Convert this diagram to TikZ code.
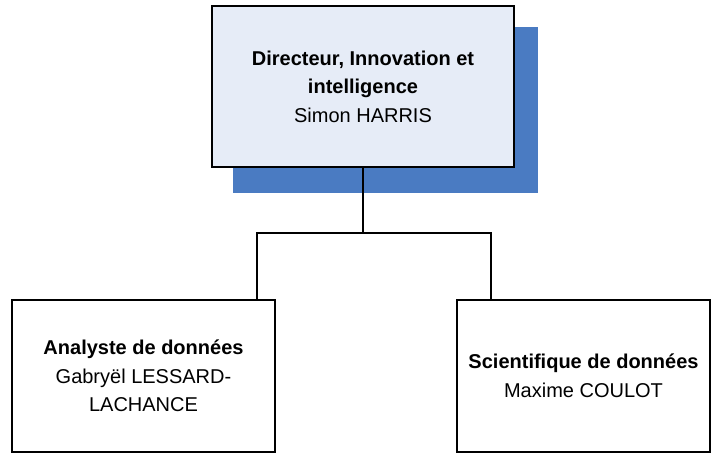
\documentclass[tikz,border=0pt]{standalone}
\usepackage{fontspec}
\setmainfont{Liberation Sans}
\pgfdeclarelayer{background layer}
\pgfsetlayers{background layer,main}
\definecolor{chefbleu}{RGB}{230,236,247}
\definecolor{ombre}{RGB}{74,123,194}
\tikzstyle{chef}=[rectangle,draw=black,line width=1.4pt,fill=chefbleu,align=center,inner sep=0pt,minimum width=227pt,minimum height=121pt,font=\fontsize{15}{21.4}\selectfont]
\tikzstyle{poste}=[rectangle,draw=black,line width=1.4pt,fill=white,align=center,inner sep=0pt,minimum height=114pt,font=\fontsize{15}{21.4}\selectfont]
\tikzstyle{lien}=[draw=black,line width=1.4pt]

\begin{document}
\begin{tikzpicture}[x=0.75pt,y=-0.75pt]
			\useasboundingbox (0,0) rectangle (712,454);
			\node (dir) at (363,86.5) [chef] {\textbf{Directeur, Innovation et}\\\textbf{intelligence}\\Simon HARRIS};
			\node (ana) at (143.5,376) [poste,minimum width=197pt] {\textbf{Analyste de données}\\Gabryël LESSARD-\\LACHANCE};
			\node (sci) at (583.5,376) [poste,minimum width=190pt] {\textbf{Scientifique de données}\\Maxime COULOT};
			
			\coordinate (bl) at (257,233);
			\coordinate (br) at (491,233);
			
			\draw [lien] (dir.south) -- (dir.south |- bl);
			\draw [lien] (ana.north -| bl) -- (bl) -- (br) -- (sci.north -| br);
			
			\begin{pgfonlayer}{background layer}
				\fill [ombre] ([shift={(22,22)}]dir.north west) rectangle ([shift={(23,25)}]dir.south east);
			\end{pgfonlayer}
		\end{tikzpicture}
\end{document}
